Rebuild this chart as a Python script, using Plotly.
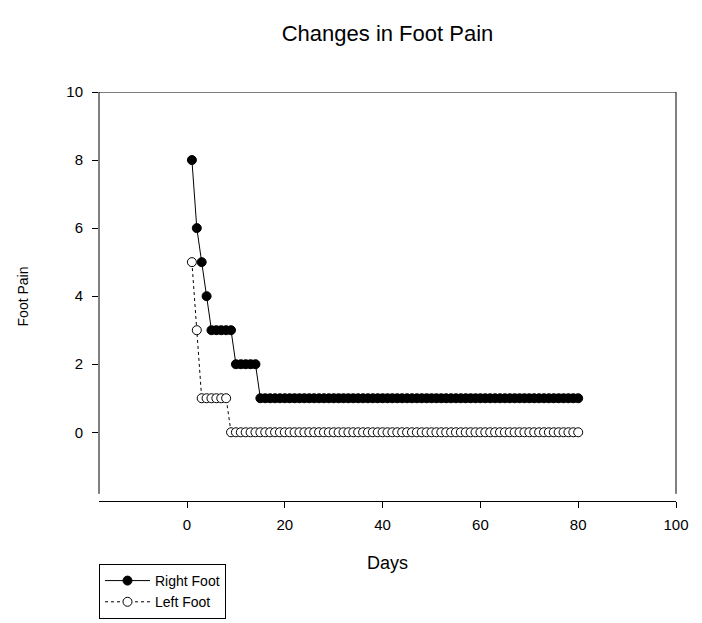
import plotly.graph_objects as go

# ---- data ----
days = [1, 2, 3, 4, 5, 6, 7, 8, 9, 10, 11, 12, 13, 14, 15, 16, 17, 18, 19, 20,
        21, 22, 23, 24, 25, 26, 27, 28, 29, 30, 31, 32, 33, 34, 35, 36, 37, 38, 39, 40,
        41, 42, 43, 44, 45, 46, 47, 48, 49, 50, 51, 52, 53, 54, 55, 56, 57, 58, 59, 60,
        61, 62, 63, 64, 65, 66, 67, 68, 69, 70, 71, 72, 73, 74, 75, 76, 77, 78, 79, 80]
right_foot = [8, 6, 5, 4, 3, 3, 3, 3, 3, 2, 2, 2, 2, 2, 1, 1, 1, 1, 1, 1,
              1, 1, 1, 1, 1, 1, 1, 1, 1, 1, 1, 1, 1, 1, 1, 1, 1, 1, 1, 1,
              1, 1, 1, 1, 1, 1, 1, 1, 1, 1, 1, 1, 1, 1, 1, 1, 1, 1, 1, 1,
              1, 1, 1, 1, 1, 1, 1, 1, 1, 1, 1, 1, 1, 1, 1, 1, 1, 1, 1, 1]
left_foot = [5, 3, 1, 1, 1, 1, 1, 1, 0, 0, 0, 0, 0, 0, 0, 0, 0, 0, 0, 0,
             0, 0, 0, 0, 0, 0, 0, 0, 0, 0, 0, 0, 0, 0, 0, 0, 0, 0, 0, 0,
             0, 0, 0, 0, 0, 0, 0, 0, 0, 0, 0, 0, 0, 0, 0, 0, 0, 0, 0, 0,
             0, 0, 0, 0, 0, 0, 0, 0, 0, 0, 0, 0, 0, 0, 0, 0, 0, 0, 0, 0]
x_ticks = [0, 20, 40, 60, 80, 100]
y_ticks = [0, 2, 4, 6, 8, 10]

FONT = "Arial, Liberation Sans, sans-serif"
X_MIN, X_MAX = -18, 100
Y_MIN, Y_MAX = -2.02, 10
Y_LINE_BOTTOM = -1.81

# the page body has an 8px default margin, so the figure is laid out 8px smaller
W, H = 694, 615

fig = go.Figure()
fig.add_trace(go.Scatter(
    x=days, y=right_foot, mode="lines+markers", name="Right Foot",
    line=dict(color="black", width=1),
    marker=dict(symbol="circle", size=9, color="black", line=dict(color="black", width=1)),
))
fig.add_trace(go.Scatter(
    x=days, y=left_foot, mode="lines+markers", name="Left Foot",
    line=dict(color="black", width=1, dash="dot"),
    marker=dict(symbol="circle", size=9, color="white", line=dict(color="black", width=1)),
))

# frame: left, top, right lines (x axis line is offset below)
frame = dict(type="line", line=dict(color="black", width=1), layer="above")
fig.add_shape(xref="paper", yref="y", x0=0, x1=0, y0=Y_LINE_BOTTOM, y1=Y_MAX, **frame)
fig.add_shape(xref="paper", yref="y", x0=1, x1=1, y0=Y_LINE_BOTTOM, y1=Y_MAX, **frame)
fig.add_shape(xref="paper", yref="y", x0=0, x1=1, y0=Y_MAX, y1=Y_MAX, **frame)

fig.update_layout(
    width=W, height=H, autosize=False,
    margin=dict(l=91, r=26, t=84, b=122, autoexpand=False),
    paper_bgcolor="white", plot_bgcolor="white",
    font=dict(family=FONT, size=15, color="black"),
    title=dict(text="Changes in Foot Pain", x=0.5, xref="paper", xanchor="center",
               y=1 - 25 / H, yref="container", yanchor="middle",
               font=dict(family=FONT, size=22, color="black")),
    showlegend=True,
    legend=dict(x=0, y=-0.154, xanchor="left", yanchor="top",
                bordercolor="black", borderwidth=1, bgcolor="white",
                itemwidth=45,
                font=dict(family=FONT, size=14, color="black")),
    xaxis=dict(range=[X_MIN, X_MAX], tickvals=x_ticks, showgrid=False, zeroline=False,
               showline=True, linecolor="black", linewidth=1,
               ticks="outside", ticklen=6, tickcolor="black", tickwidth=1,
               ticklabelstandoff=4,
               tickfont=dict(family=FONT, size=15),
               title=dict(text="Days", standoff=24, font=dict(family=FONT, size=18))),
    yaxis=dict(range=[Y_MIN, Y_MAX], tickvals=y_ticks, showgrid=False, zeroline=False,
               showline=False,
               ticks="outside", ticklen=6, tickcolor="black", tickwidth=1,
               ticklabelstandoff=6,
               tickfont=dict(family=FONT, size=15),
               title=dict(text="Foot Pain", standoff=34, font=dict(family=FONT, size=14))),
)

fig.write_html("out.html")
